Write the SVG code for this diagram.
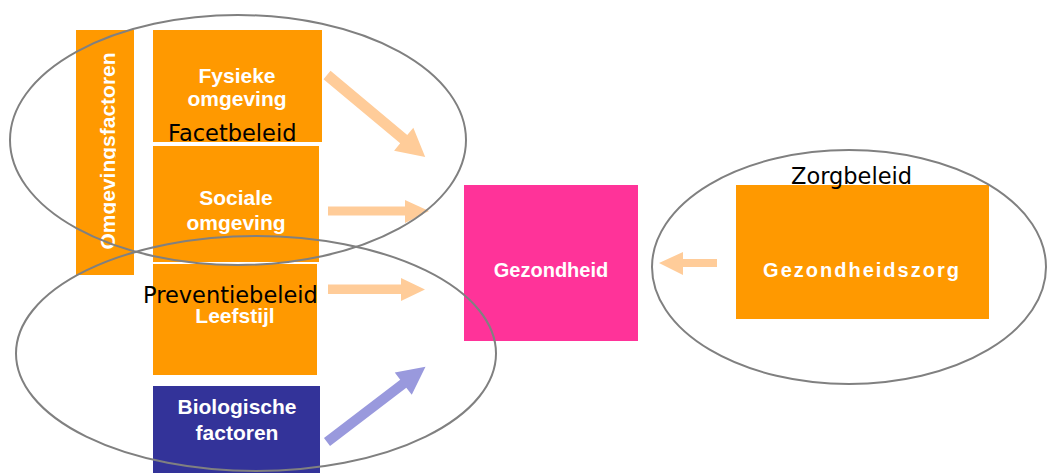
<svg xmlns="http://www.w3.org/2000/svg" width="1048" height="473" viewBox="0 0 1048 473">
<style>
.box{fill:#FF9900}
.lbl{font-family:"Liberation Sans",Arial,sans-serif;font-weight:bold;font-size:21px;fill:#FFFFFF;text-anchor:middle}
.pol{font-family:"DejaVu Sans","Noto Sans",sans-serif;font-size:22.5px;fill:#000000}
.ell{fill:none;stroke:#808080;stroke-width:2}
.arr{fill:#FFCC99}
.arrb{fill:#9999DD}
</style>
<defs>
<clipPath id="vclip"><rect x="70" y="25" width="45.8" height="260"/></clipPath>
</defs>
<rect width="1048" height="473" fill="#FFFFFF"/>
<g id="omgevingsfactoren">
<rect class="box" x="76" y="30" width="58" height="245"/>
<g clip-path="url(#vclip)">
<text class="lbl" transform="translate(115,151) rotate(-90)" x="0" y="0">Omgevingsfactoren</text>
</g>
</g>
<g id="fysieke">
<rect class="box" x="153" y="30" width="169" height="112"/>
<text class="lbl" x="237" y="83">Fysieke</text>
<text class="lbl" x="237" y="106">omgeving</text>
</g>
<g id="sociale">
<rect class="box" x="153" y="146" width="166" height="116"/>
<text class="lbl" x="236" y="205">Sociale</text>
<text class="lbl" x="236" y="230">omgeving</text>
</g>
<g id="leefstijl">
<rect class="box" x="153" y="264" width="164" height="111"/>
<text class="lbl" x="235" y="323">Leefstijl</text>
</g>
<g id="biologische">
<rect x="153" y="386" width="167" height="90" fill="#333399"/>
<text class="lbl" x="237" y="414">Biologische</text>
<text class="lbl" x="237" y="440">factoren</text>
</g>
<g id="gezondheid">
<rect x="464" y="185" width="174" height="156" fill="#FF3399"/>
<text class="lbl" x="551" y="277" style="font-size:20px">Gezondheid</text>
</g>
<g id="gezondheidszorg">
<rect class="box" x="736" y="185" width="253" height="134"/>
<text class="lbl" x="862" y="277" style="font-size:20px;letter-spacing:2px">Gezondheidszorg</text>
</g>
<g id="connectors">
<polygon class="arr" transform="translate(327,75) rotate(39.9)" points="0,-5.5 100,-5.5 100,-15 128,0 100,15 100,5.5 0,5.5"/>
<polygon class="arr" points="328,206.5 405,206.5 405,200 429,211 405,223 405,215.5 328,215.5"/>
<polygon class="arr" points="328,284.5 401,284.5 401,278 425,289.5 401,301 401,294 328,294"/>
<polygon class="arr" points="717,259 683,259 683,252 659,263 683,275 683,267 717,267"/>
<polygon class="arrb" transform="translate(327,442) rotate(-37.4)" points="0,-5 96,-5 96,-14 124,0 96,14 96,5 0,5"/>
</g>
<g id="ellipses">
<ellipse class="ell" cx="238" cy="140" rx="228" ry="125"/>
<ellipse class="ell" cx="256" cy="353.5" rx="240" ry="117.5"/>
<ellipse class="ell" cx="849" cy="267" rx="197" ry="117"/>
</g>
<g id="policy-labels">
<text class="pol" x="168" y="141">Facetbeleid</text>
<text class="pol" x="143" y="303">Preventiebeleid</text>
<text class="pol" x="791" y="184">Zorgbeleid</text>
</g>
</svg>
